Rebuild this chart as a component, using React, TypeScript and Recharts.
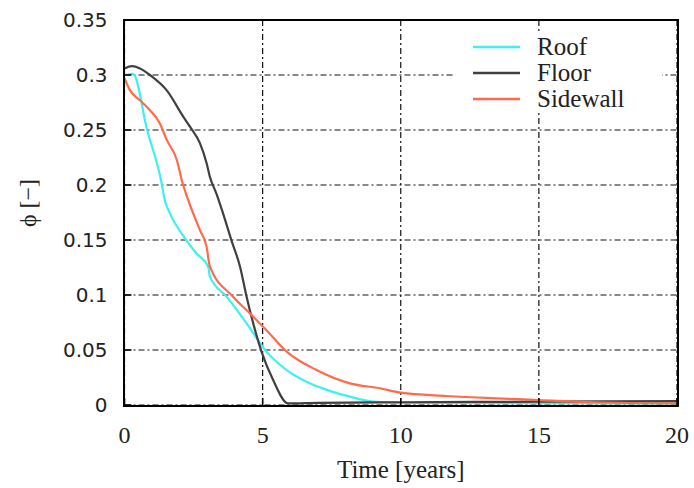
import { CartesianGrid, Label, Legend, Line, LineChart, XAxis, YAxis } from 'recharts';

const roofTime = [0, 0.31, 0.82, 1.32, 1.46, 1.65, 2.19, 2.6, 3.03, 3.09, 3.7, 4.42, 5.14, 5.87, 6.59, 7.3, 8.16, 9.0, 10, 12, 15, 18, 20];
const roofPhi = [0.3, 0.301, 0.25, 0.2045, 0.186, 0.174, 0.1515, 0.138, 0.1257, 0.1167, 0.0985, 0.0742, 0.0485, 0.0318, 0.0212, 0.014, 0.0076, 0.003, 0.002, 0.0018, 0.0016, 0.0015, 0.0015];

const floorTime = [0, 0.27, 0.56, 0.92, 1.53, 2.13, 2.37, 2.73, 2.97, 3.09, 3.33, 3.57, 3.88, 4.18, 4.42, 4.66, 4.96, 5.38, 5.92, 7, 10, 15, 20];
const floorPhi = [0.306, 0.308, 0.306, 0.3, 0.286, 0.262, 0.253, 0.238, 0.22, 0.2075, 0.192, 0.174, 0.149, 0.126, 0.0985, 0.0742, 0.0485, 0.0227, 0.0015, 0.002, 0.0025, 0.003, 0.0035];

const sideTime = [0, 0.2, 0.56, 0.92, 1.28, 1.53, 1.89, 2.1, 2.31, 2.73, 2.97, 3.09, 3.93, 4.54, 5.14, 5.87, 6.95, 8.16, 9.24, 10, 11.65, 13.46, 15, 17.1, 20];
const sidePhi = [0.297, 0.286, 0.277, 0.268, 0.256, 0.241, 0.223, 0.202, 0.186, 0.159, 0.144, 0.126, 0.0985, 0.0833, 0.068, 0.0485, 0.0318, 0.0197, 0.0152, 0.0112, 0.0082, 0.006, 0.0045, 0.0025, 0.0015];

const xTicks = [0, 5, 10, 15, 20];
const yTicks = [0, 0.05, 0.1, 0.15, 0.2, 0.25, 0.3, 0.35];

const seriesNames = ['Roof', 'Floor', 'Sidewall'];
const seriesColors = ['#3ff0f0', '#404040', '#ff6a48'];

const toPoints = (t: number[], v: number[]) => t.map((time, i) => ({ time, phi: v[i] }));

const roofData = toPoints(roofTime, roofPhi);
const floorData = toPoints(floorTime, floorPhi);
const sideData = toPoints(sideTime, sidePhi);

const serif = '"Liberation Serif", "Times New Roman", serif';
const inTick = { stroke: '#000', strokeWidth: 1.5 };

const LegendBox = () => (
  <div style={{ background: '#fff', width: 207, fontFamily: serif, fontSize: 25, color: '#222' }}>
    {seriesNames.map((name, i) => (
      <div key={name} style={{ display: 'flex', alignItems: 'center', height: 26 }}>
        <svg width={82} height={26}>
          <line x1={18} x2={65} y1={13} y2={13} stroke={seriesColors[i]} strokeWidth={2.5} />
        </svg>
        <span style={{ lineHeight: '26px' }}>{name}</span>
      </div>
    ))}
  </div>
);

const PhiLabel = () => (
  <text x={28} y={203} transform="rotate(-90 28 203)" textAnchor="middle" dominantBaseline="central" fill="#222" fontFamily={serif} fontSize={24}>
    ϕ [−]
  </text>
);

export default function App() {
  return (
    <div style={{ position: 'absolute', left: 0, top: 0, width: 694, height: 488, background: '#fff' }}>
      <LineChart width={694} height={488} margin={{ top: 20, right: 17, left: 0, bottom: 0 }}>
        <CartesianGrid stroke="#111" strokeWidth={1.2} strokeDasharray="6 3 2 3" />
        <XAxis
          dataKey="time"
          type="number"
          domain={[0, 20]}
          ticks={xTicks}
          height={83}
          axisLine={false}
          tickLine={inTick}
          tickSize={-7}
          tickMargin={28}
          tick={{ fill: '#222', fontFamily: serif, fontSize: 24 }}
          allowDuplicatedCategory={false}
          label={{ value: 'Time [years]', position: 'insideBottom', offset: 10, fill: '#222', fontFamily: serif, fontSize: 25 }}
        />
        <YAxis
          type="number"
          domain={[0, 0.35]}
          ticks={yTicks}
          width={124.5}
          axisLine={false}
          tickLine={inTick}
          tickSize={-7}
          tickMargin={24}
          tick={{ fill: '#222', fontFamily: '"DejaVu Sans", sans-serif', fontSize: 20 }}
        >
          <Label content={<PhiLabel />} />
        </YAxis>
        <Legend
          layout="horizontal"
          verticalAlign="middle"
          align="center"
          wrapperStyle={{ left: 455, top: 34, width: 207 }}
          content={<LegendBox />}
        />
        <Line data={roofData} dataKey="phi" name="Roof" type="monotone" stroke={seriesColors[0]} strokeWidth={2.2} dot={false} isAnimationActive={false} />
        <Line data={floorData} dataKey="phi" name="Floor" type="monotone" stroke={seriesColors[1]} strokeWidth={2.2} dot={false} isAnimationActive={false} />
        <Line data={sideData} dataKey="phi" name="Sidewall" type="monotone" stroke={seriesColors[2]} strokeWidth={2.2} dot={false} isAnimationActive={false} />
      </LineChart>
      {/* plot frame */}
      <div
        style={{
          position: 'absolute',
          left: 123,
          top: 18.5,
          width: 555.5,
          height: 388,
          boxSizing: 'border-box',
          border: '2.5px solid #000',
          pointerEvents: 'none',
        }}
      />
    </div>
  );
}
